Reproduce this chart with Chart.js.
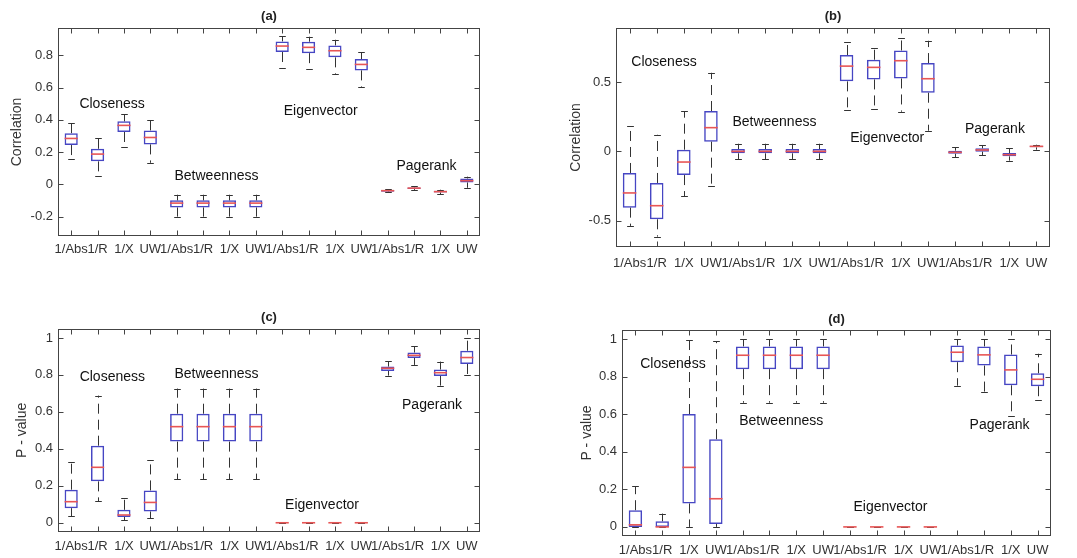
<!DOCTYPE html>
<html>
<head>
<meta charset="utf-8">
<script src="https://cdn.jsdelivr.net/npm/chart.js@4/dist/chart.umd.min.js"></script>
<style>
  body { margin: 0; background: #fff; }
  .panel { position: absolute; }
</style>
</head>
<body>
<div class="panel" style="left:0;top:0"><canvas id="chartA" width="538" height="279"></canvas></div>
<div class="panel" style="left:538px;top:0"><canvas id="chartB" width="539" height="279"></canvas></div>
<div class="panel" style="left:0;top:279px"><canvas id="chartC" width="538" height="279"></canvas></div>
<div class="panel" style="left:538px;top:279px"><canvas id="chartD" width="539" height="279"></canvas></div>
<script>
// x categories: 4 weightings for each of 4 centrality measures
const categories = ['1/Abs', '1/R', '1/X', 'UW', '1/Abs', '1/R', '1/X', 'UW',
                    '1/Abs', '1/R', '1/X', 'UW', '1/Abs', '1/R', '1/X', 'UW'];
const measures = ['Closeness', 'Betweenness', 'Eigenvector', 'Pagerank'];

// (a) correlation
const aLow  = [0.157, 0.050, 0.234, 0.134, -0.200, -0.200, -0.200, -0.200, 0.724, 0.715, 0.684, 0.602, -0.050, -0.035, -0.062, -0.021];
const aQ1   = [0.244, 0.143, 0.325, 0.248, -0.143, -0.143, -0.143, -0.143, 0.821, 0.814, 0.788, 0.707, -0.045, -0.029, -0.050, 0.012];
const aMed  = [0.285, 0.188, 0.366, 0.291, -0.116, -0.116, -0.116, -0.116, 0.858, 0.850, 0.829, 0.744, -0.039, -0.023, -0.045, 0.023];
const aQ3   = [0.318, 0.221, 0.391, 0.335, -0.099, -0.099, -0.099, -0.099, 0.887, 0.885, 0.862, 0.777, -0.035, -0.019, -0.039, 0.037];
const aHigh = [0.378, 0.285, 0.434, 0.399, -0.064, -0.064, -0.064, -0.064, 0.920, 0.916, 0.897, 0.821, -0.029, -0.012, -0.033, 0.048];

// (b) correlation
const bLow  = [-0.538, -0.615, -0.325, -0.250, -0.055, -0.055, -0.055, -0.055, 0.296, 0.308, 0.286, 0.149, -0.043, -0.029, -0.067, 0.012];
const bQ1   = [-0.406, -0.490, -0.171, 0.070, -0.014, -0.014, -0.014, -0.014, 0.505, 0.519, 0.526, 0.423, -0.017, -0.002, -0.036, 0.029];
const bMed  = [-0.300, -0.392, -0.077, 0.171, 0.000, 0.000, 0.000, 0.000, 0.615, 0.606, 0.654, 0.524, -0.007, 0.010, -0.024, 0.036];
const bQ3   = [-0.156, -0.228, 0.012, 0.291, 0.017, 0.017, 0.017, 0.017, 0.695, 0.661, 0.728, 0.637, 0.005, 0.022, -0.012, 0.041];
const bHigh = [0.183, 0.120, 0.291, 0.567, 0.055, 0.055, 0.055, 0.055, 0.788, 0.745, 0.817, 0.798, 0.031, 0.046, 0.022, 0.048];

// (c) p-value
const cLow  = [0.034, 0.116, 0.014, 0.025, 0.236, 0.236, 0.236, 0.236, 0, 0, 0, 0, 0.796, 0.854, 0.742, 0.800];
const cQ1   = [0.079, 0.224, 0.031, 0.061, 0.439, 0.439, 0.439, 0.439, 0, 0, 0, 0, 0.821, 0.892, 0.794, 0.859];
const cMed  = [0.114, 0.300, 0.042, 0.110, 0.520, 0.520, 0.520, 0.520, 0, 0, 0, 0, 0.836, 0.906, 0.812, 0.894];
const cQ3   = [0.179, 0.417, 0.070, 0.175, 0.590, 0.590, 0.590, 0.590, 0, 0, 0, 0, 0.845, 0.921, 0.829, 0.931];
const cHigh = [0.327, 0.688, 0.135, 0.339, 0.726, 0.726, 0.726, 0.726, 0, 0, 0, 0, 0.875, 0.955, 0.872, 1.000];

// (d) p-value
const dLow  = [0, 0, 0, 0, 0.661, 0.661, 0.661, 0.661, 0, 0, 0, 0, 0.752, 0.718, 0.592, 0.674];
const dQ1   = [0, 0, 0.125, 0.016, 0.840, 0.840, 0.840, 0.840, 0, 0, 0, 0, 0.877, 0.859, 0.754, 0.749];
const dMed  = [0.011, 0, 0.317, 0.150, 0.914, 0.914, 0.914, 0.914, 0, 0, 0, 0, 0.930, 0.916, 0.836, 0.786];
const dQ3   = [0.089, 0.030, 0.601, 0.467, 0.961, 0.961, 0.961, 0.961, 0, 0, 0, 0, 0.966, 0.961, 0.918, 0.818];
const dHigh = [0.217, 0.071, 0.995, 0.988, 1.000, 1.000, 1.000, 1.000, 0, 0, 0, 0, 1.000, 1.000, 1.000, 0.922];

Chart.defaults.font.family = '"Liberation Sans", Arial, sans-serif';
Chart.defaults.color = '#333';

const boxColor = 'rgb(70,70,195)';
const medColor = 'rgb(232,85,85)';
const whiskColor = '#333';
const frameColor = '#444';

// whiskers, medians, frame, inward ticks and group names
const boxPlugin = {
  id: 'boxExtras',
  afterDatasetsDraw(chart, args, opts) {
    const ctx = chart.ctx;
    const y = chart.scales.y;
    const meta = chart.getDatasetMeta(0);
    const st = opts.stats;
    ctx.save();
    meta.data.forEach((bar, i) => {
      const x = Math.round(bar.x) + 0.5;
      const hw = bar.width / 2, cw = bar.width / 4;
      const pLow = y.getPixelForValue(st.low[i]), pQ1 = y.getPixelForValue(st.q1[i]);
      const pQ3 = y.getPixelForValue(st.q3[i]), pHigh = y.getPixelForValue(st.high[i]);
      const pMed = y.getPixelForValue(st.med[i]);
      ctx.lineWidth = 1;
      ctx.strokeStyle = whiskColor;
      ctx.setLineDash([10, 6]);
      ctx.beginPath();
      ctx.moveTo(x, pQ3); ctx.lineTo(x, pHigh);
      ctx.moveTo(x, pQ1); ctx.lineTo(x, pLow);
      ctx.stroke();
      ctx.setLineDash([]);
      ctx.beginPath();
      ctx.moveTo(x - cw, Math.round(pHigh) + 0.5); ctx.lineTo(x + cw, Math.round(pHigh) + 0.5);
      ctx.moveTo(x - cw, Math.round(pLow) + 0.5); ctx.lineTo(x + cw, Math.round(pLow) + 0.5);
      ctx.stroke();
      ctx.lineWidth = 1.6;
      ctx.strokeStyle = medColor;
      ctx.beginPath();
      ctx.moveTo(bar.x - hw, pMed); ctx.lineTo(bar.x + hw, pMed);
      ctx.stroke();
    });
    ctx.restore();
  },
  afterDraw(chart, args, opts) {
    const ctx = chart.ctx;
    const a = chart.chartArea;
    const xs = chart.scales.x, ys = chart.scales.y;
    ctx.save();
    ctx.strokeStyle = frameColor;
    ctx.lineWidth = 1;
    const l = Math.round(a.left) + 0.5, r = Math.round(a.right) - 0.5;
    const t = Math.round(a.top) + 0.5, b = Math.round(a.bottom) - 0.5;
    ctx.strokeRect(l, t, r - l, b - t);
    ctx.beginPath();
    categories.forEach((c, i) => {
      const px = Math.round(xs.getPixelForValue(i)) + 0.5;
      ctx.moveTo(px, t); ctx.lineTo(px, t + 5);
      ctx.moveTo(px, b); ctx.lineTo(px, b - 5);
    });
    ys.ticks.forEach(tk => {
      const py = Math.round(ys.getPixelForValue(tk.value)) + 0.5;
      ctx.moveTo(l, py); ctx.lineTo(l + 5, py);
      ctx.moveTo(r, py); ctx.lineTo(r - 5, py);
    });
    ctx.stroke();
    ctx.fillStyle = '#111';
    ctx.font = '14px "Liberation Sans", Arial, sans-serif';
    ctx.textAlign = 'center';
    ctx.textBaseline = 'middle';
    opts.notes.forEach((n, k) => {
      ctx.fillText(measures[k], xs.getPixelForValue(n[0]), ys.getPixelForValue(n[1]));
    });
    ctx.restore();
  }
};

function makeBoxChart(id, p) {
  return new Chart(document.getElementById(id), {
    type: 'bar',
    data: {
      labels: categories,
      datasets: [{
        data: p.q1.map((v, i) => [v, p.q3[i]]),
        backgroundColor: 'rgba(0,0,0,0)',
        borderColor: boxColor,
        borderWidth: 1.5,
        borderSkipped: false,
        barPercentage: 0.5,
        categoryPercentage: 1
      }]
    },
    options: {
      responsive: false,
      animation: false,
      events: [],
      layout: { padding: { left: 0, right: p.padRight, top: 0, bottom: 0 } },
      plugins: {
        legend: { display: false },
        tooltip: { enabled: false },
        title: {
          display: true,
          text: p.title,
          fullSize: false,
          color: '#222',
          font: { size: 13, weight: 'bold' },
          padding: { top: p.titleTop, bottom: p.titleBottom }
        },
        boxExtras: {
          stats: { low: p.low, q1: p.q1, med: p.med, q3: p.q3, high: p.high },
          notes: p.notes
        }
      },
      scales: {
        x: {
          grid: { display: false, drawTicks: false },
          border: { display: false },
          ticks: { autoSkip: false, maxRotation: 0, minRotation: 0, padding: p.xPad, font: { size: 13 } },
          afterFit: s => { s.height = p.xHeight; }
        },
        y: {
          min: p.yMin,
          max: p.yMax,
          grid: { display: false, drawTicks: false },
          border: { display: false },
          ticks: {
            stepSize: p.step,
            includeBounds: false,
            padding: 5,
            font: { size: 13 },
            callback: v => String(+v.toFixed(2))
          },
          title: { display: true, text: p.yTitle, font: { size: 14 }, padding: { top: p.yTitlePad, bottom: 0 } },
          afterFit: s => { s.width = p.yWidth; }
        }
      }
    },
    plugins: [boxPlugin]
  });
}

makeBoxChart('chartA', {
  title: '(a)', yTitle: 'Correlation', yMin: -0.32, yMax: 0.97, step: 0.2,
  low: aLow, q1: aQ1, med: aMed, q3: aQ3, high: aHigh,
  notes: [[1.55, 0.498], [5.51, 0.054], [9.46, 0.453], [13.47, 0.116]],
  yWidth: 58, xHeight: 43, padRight: 58, titleTop: 9, titleBottom: 3.4, xPad: 6, yTitlePad: 9
});
makeBoxChart('chartB', {
  title: '(b)', yTitle: 'Correlation', yMin: -0.69, yMax: 0.89, step: 0.5,
  low: bLow, q1: bQ1, med: bMed, q3: bQ3, high: bHigh,
  notes: [[1.27, 0.644], [5.34, 0.212], [9.5, 0.094], [13.47, 0.163]],
  yWidth: 78, xHeight: 32, padRight: 27, titleTop: 9, titleBottom: 3.4, xPad: 9, yTitlePad: 30
});
makeBoxChart('chartC', {
  title: '(c)', yTitle: 'P - value', yMin: -0.05, yMax: 1.05, step: 0.2,
  low: cLow, q1: cQ1, med: cMed, q3: cQ3, high: cHigh,
  notes: [[1.56, 0.79], [5.51, 0.803], [9.51, 0.096], [13.68, 0.634]],
  yWidth: 58, xHeight: 26, padRight: 58, titleTop: 31, titleBottom: 3.1, xPad: 7, yTitlePad: 14
});
makeBoxChart('chartD', {
  title: '(d)', yTitle: 'P - value', yMin: -0.05, yMax: 1.05, step: 0.2,
  low: dLow, q1: dQ1, med: dMed, q3: dQ3, high: dHigh,
  notes: [[1.4, 0.865], [5.44, 0.561], [9.51, 0.107], [13.58, 0.544]],
  yWidth: 84, xHeight: 21.7, padRight: 26, titleTop: 32.4, titleBottom: 2.7, xPad: 6, yTitlePad: 40.6
});
</script>
</body>
</html>
